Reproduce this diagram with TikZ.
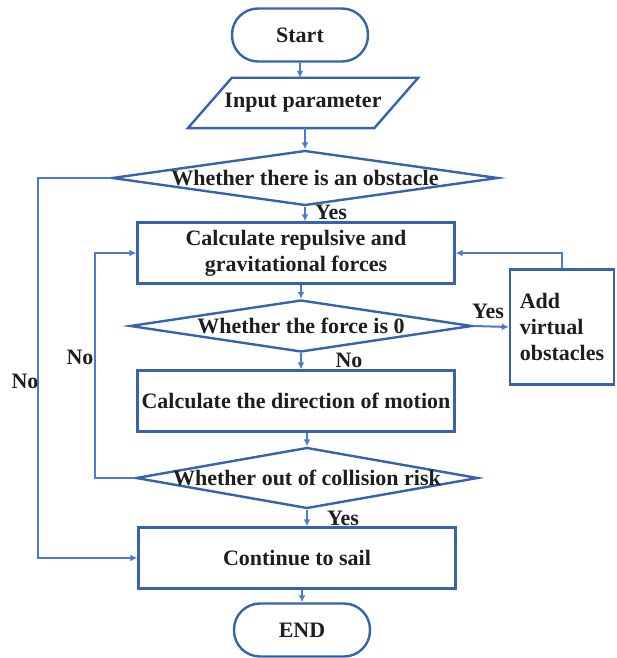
\documentclass[tikz,border=0pt]{standalone}
\usepackage{fontspec}
\setmainfont{Liberation Serif}
\usetikzlibrary{arrows.meta,shapes.geometric,calc}
\definecolor{boxblue}{HTML}{3563AE}
\definecolor{linkblue}{HTML}{4A7BCE}
\definecolor{inkgray}{HTML}{1E1E1E}

\begin{document}
\begin{tikzpicture}[x=1pt,y=-1pt,
  txt/.style={font=\fontsize{22}{26}\selectfont\bfseries, text=inkgray},
  terminal/.style={txt, draw=boxblue, line width=2.4pt, rounded corners=26pt, minimum width=136pt, minimum height=53pt},
  process/.style={txt, draw=boxblue, line width=2.4pt, minimum width=317pt, minimum height=61pt, align=center},
  decision/.style={diamond, draw=boxblue, line width=2.4pt, inner sep=0pt},
  conn/.style={draw=linkblue, line width=2pt, -{Latex[length=7pt,width=7pt]}},
  lbl/.style={txt}
]
\useasboundingbox (0,0) rectangle (616,658);
% Start and input
\node[terminal] (start) at (300,35) {Start};
\node[txt, minimum width=186pt, minimum height=50pt] (inp) at (303,103) {Input parameter};
\draw[boxblue, line width=2.4pt] ([xshift=-22pt]inp.south west) -- ([xshift=22pt]inp.north west)
  -- ([xshift=22pt]inp.north east) -- ([xshift=-22pt]inp.south east) -- cycle;
% Obstacle check
\node[decision, minimum width=386pt, minimum height=55pt,
  label={[txt, name=d1t]center:Whether there is an obstacle}] (d1) at (305,178) {};
\node[process] (forces) at (296,253) {Calculate repulsive and\\gravitational forces};
\node[decision, minimum width=342pt, minimum height=52pt,
  label={[txt, name=d2t]center:Whether the force is 0}] (d2) at (301,326) {};
\node[txt, draw=boxblue, line width=2.4pt, align=left, minimum width=104pt, minimum height=115pt] (add) at (562,327) {Add\\virtual\\obstacles};
\node[process] (motion) at (296,401) {Calculate the direction of motion};
\node[decision, minimum width=342pt, minimum height=61pt,
  label={[txt, name=d3t]center:Whether out of collision risk}] (d3) at (307,478) {};
\node[process] (sail) at (297,558) {Continue to sail};
\node[terminal] (end) at (302,630) {END};
% Loop corners
\coordinate (outer) at (38,178);
\coordinate (inner) at (95,478);
% Main line
\draw[conn] (start) -- (inp.north -| start);
\draw[conn] (inp.south -| d1.north) -- (d1.north);
\draw[conn] (d1.south) -- (d1.south |- forces.north);
\draw[conn] (forces.south -| d2.north) -- (d2.north);
\draw[conn] (d2.south) -- (d2.south |- motion.north);
\draw[conn] (motion.south -| d3.north) -- (d3.north);
\draw[conn] (d3.south) -- (d3.south |- sail.north);
\draw[conn] (sail.south -| end.north) -- (end.north);
% Branches
\draw[conn] (d2.east) -- (add.west);
\draw[conn] (add.north) |- (forces.east);
\draw[conn] (d3.west) -- (d3.west -| inner) |- (forces.west);
\draw[conn] (d1.west) -- (outer) |- (sail.west);
% Labels
\node[lbl] (yes1) at (331,212) {Yes};
\node[lbl] (yes2) at (488,311) {Yes};
\node[lbl] (no2) at (349,360) {No};
\node[lbl] (no3) at (80,357) {No};
\node[lbl] (no1) at (25,381) {No};
\node[lbl] (yes3) at (343,518) {Yes};
\end{tikzpicture}
\end{document}
